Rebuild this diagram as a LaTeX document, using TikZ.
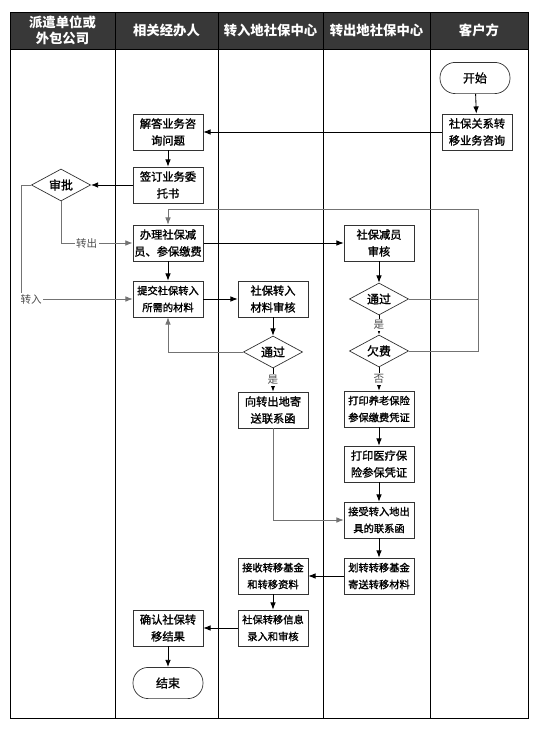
\documentclass[tikz,border=0pt]{standalone}
\usepackage{fontspec}
\setmainfont{Noto Sans CJK SC}
\newfontfamily\boxfont[FakeBold=1.4]{Noto Sans CJK SC}
\usetikzlibrary{arrows.meta,shapes.geometric,positioning}
\tikzset{
  >={Latex[length=1.8mm,width=1.4mm]},
  lane/.style={line width=0.6pt,black},
  lanehd/.style={text=white,font=\bfseries\fontsize{9.5}{11.5}\selectfont,
    align=center,inner sep=0pt},
  procbox/.style={draw=black!80,line width=0.5pt,minimum width=17.5mm,
    minimum height=9mm,inner sep=1pt,align=center,
    font=\boxfont\fontsize{8}{12}\selectfont},
  procsm/.style={procbox,font=\boxfont\fontsize{7.3}{12}\selectfont},
  termbox/.style={draw=black!80,line width=0.5pt,rounded corners=3.8mm,
    minimum width=17.5mm,minimum height=7.8mm,
    font=\boxfont\fontsize{8.5}{10}\selectfont},
  decbox/.style={diamond,draw=black!80,line width=0.5pt,aspect=1.8,
    minimum width=14.8mm,minimum height=8mm,inner sep=0pt,
    font=\boxfont\fontsize{8.5}{10}\selectfont},
  flow/.style={->,line width=0.6pt},
  flowg/.style={->,line width=0.5pt,black!55},
  lineg/.style={line width=0.5pt,black!55},
  flowlbl/.style={font=\fontsize{7.5}{9}\selectfont,text=black!70,
    fill=white,inner sep=1pt},
}
\begin{document}
\begin{tikzpicture}[x=0.25mm,y=-0.25mm]
  \useasboundingbox (0,0) rectangle (542,731);
  % lanes
  \fill[black!78] (10,12) rectangle (528,49);
  \foreach \x in {115,218,323,430}
    \draw[lane] (\x,12) -- (\x,718);
  \draw[lane] (10,12) rectangle (528,718);
  \draw[lane] (10,49) -- (528,49);
  \node[lanehd] (h1) at (62.5,30.5) {派遣单位或\\外包公司};
  \node[lanehd] (h2) at (166.5,30.5) {相关经办人};
  \node[lanehd] (h3) at (270.5,30.5) {转入地社保中心};
  \node[lanehd] (h4) at (376.5,30.5) {转出地社保中心};
  \node[lanehd] (h5) at (479,30.5) {客户方};

  % steps
  \node[termbox] (start) at (475,78) {开始};
  \node[procbox] (zx) at (477,132) {社保关系转\\移业务咨询};
  \node[procbox] (jd) at (168,132) {解答业务咨\\询问题};
  \node[procbox] (qd) at (168,185) {签订业务委\\托书};
  \node[decbox] (sp) at (61,185) {审批};
  \node[procbox] (bl) at (168,243) {办理社保减\\员、参保缴费};
  \node[procsm] (tj) at (168,299) {提交社保转入\\所需的材料};
  \node[procbox] (zrsh) at (273,299) {社保转入\\材料审核};
  \node[decbox] (tg1) at (273,352) {通过};
  \node[procbox] (xs) at (273,410) {向转出地寄\\送联系函};
  \node[procbox] (jysh) at (379,243) {社保减员\\审核};
  \node[decbox] (tg2) at (379,299) {通过};
  \node[decbox] (qf) at (379,351) {欠费};
  \node[procsm] (dy1) at (379,409) {打印养老保险\\参保缴费凭证};
  \node[procbox] (dy2) at (379,464) {打印医疗保\\险参保凭证};
  \node[procsm] (js) at (379,520) {接受转入地出\\具的联系函};
  \node[procsm] (hz) at (379,576) {划转转移基金\\寄送转移材料};
  \node[procsm] (jsh) at (273,576) {接收转移基金\\和转移资料};
  \node[procsm] (lr) at (273,628) {社保转移信息\\录入和审核};
  \node[procbox] (qr) at (168,628) {确认社保转\\移结果};
  \node[termbox] (end) at (168,683) {结束};
  \coordinate (rt) at (478,209);

  % connectors
  \draw[flow] (start) -- (zx);
  \draw[flow] (zx) -- (jd);
  \draw[flow] (jd) -- (qd);
  \draw[flow] (qd) -- (sp);
  \draw[flowg] (sp.south) |- node[flowlbl,pos=0.68] {转出} (bl.west);
  \draw[flowg] (sp.west) -- ++(-10,0) |- node[flowlbl,pos=0.545] {转入} (tj.west);
  \draw[flow] (bl) -- (tj);
  \draw[flow] (bl) -- (jysh);
  \draw[flow] (tj) -- (zrsh);
  \draw[flow] (zrsh) -- (tg1);
  \draw[flowg] (tg1.west) -| (tj.south);
  \draw[flow] (tg1) -- node[flowlbl] {是} (xs);
  \draw[flowg] (xs.south) |- (js.west);
  \draw[flow] (jysh) -- (tg2);
  \draw[flow] (tg2) -- node[flowlbl] {是} (qf);
  \draw[flowg] (tg2.east) -| (rt) -| (bl.north);
  \draw[lineg] (qf.east) -| (rt);
  \draw[flow] (qf) -- node[flowlbl] {否} (dy1);
  \draw[flow] (dy1) -- (dy2);
  \draw[flow] (dy2) -- (js);
  \draw[flow] (js) -- (hz);
  \draw[flow] (hz) -- (jsh);
  \draw[flow] (jsh) -- (lr);
  \draw[flow] (lr) -- (qr);
  \draw[flow] (qr) -- (end);
\end{tikzpicture}
\end{document}
